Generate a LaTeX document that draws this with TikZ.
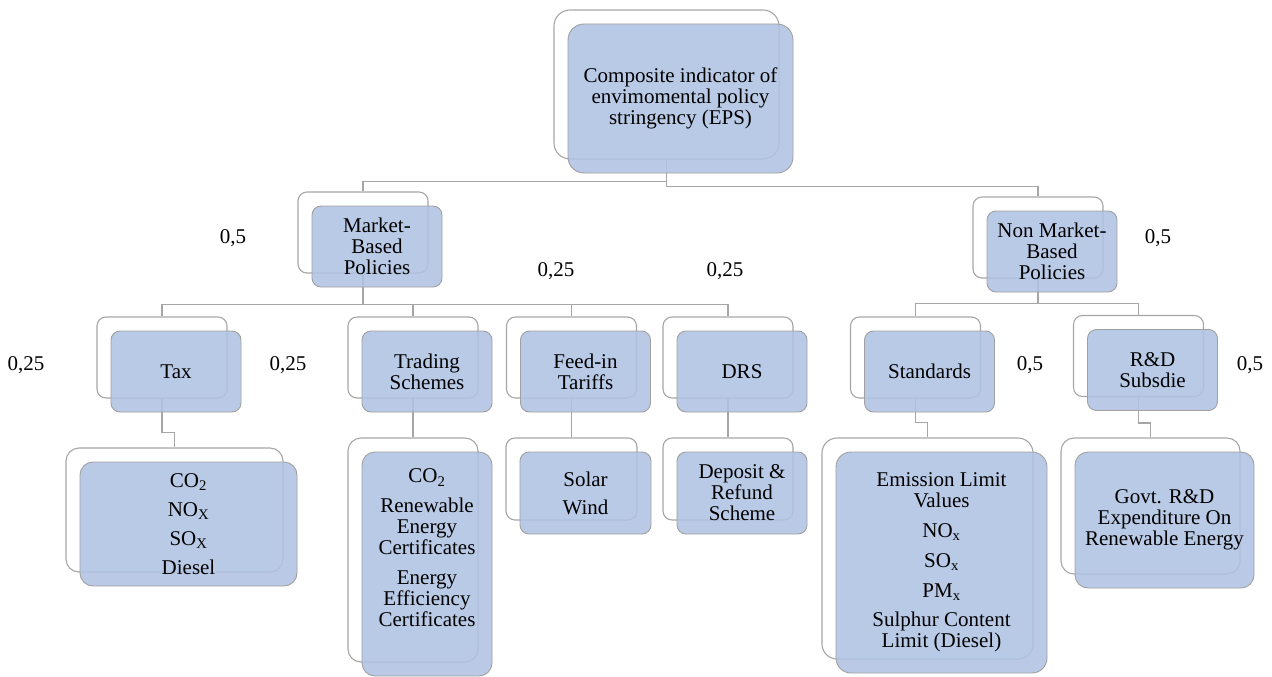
\documentclass[tikz,border=0pt]{standalone}
\usepackage{fontspec}
\setmainfont{Liberation Serif}
\newfontfamily\tnr{Liberation Serif}
\definecolor{lineGray}{RGB}{166,166,166}
\definecolor{backGray}{RGB}{166,166,166}
\definecolor{frontGray}{RGB}{160,160,160}
\definecolor{boxBlue}{RGB}{176,195,227}
\pgfdeclarelayer{bg}
\pgfsetlayers{bg,main}
\newcommand\pairbox[7]{%
  \node[backbox, minimum width=#4pt, minimum height=#5pt, rounded corners=#6pt] (#1W) at ({#2-14},{#3-14}) {};
  \node[frontbox, minimum width=#4pt, minimum height=#5pt, rounded corners=#6pt] (#1) at (#2,#3) {#7};
}
\begin{document}
\begin{tikzpicture}[x=1pt,y=-1pt,
  conn/.style={draw=lineGray, line width=1.3pt},
  backbox/.style={draw=backGray, fill=white, line width=1.1pt, inner sep=0pt},
  frontbox/.style={draw=frontGray, fill=boxBlue, fill opacity=0.88, text opacity=1, line width=0.9pt, inner sep=0pt, align=center, font=\tnr\fontsize{21}{21}\selectfont},
  wlabel/.style={font=\tnr\fontsize{21}{21}\selectfont, anchor=base, inner sep=0pt}]
\useasboundingbox (0,0) rectangle (1272,677);

% top
\pairbox{top}{680.5}{98.5}{225}{149}{16}{Composite indicator of\\envimomental policy\\stringency (EPS)}
% level 1
\pairbox{mkt}{377}{246.5}{130}{81}{9}{Market-\\Based\\Policies}
\pairbox{nmk}{1052}{251.5}{130}{81}{9}{Non Market-\\Based\\Policies}
% level 2
\pairbox{tax}{176}{371.5}{130}{81}{9}{Tax}
\pairbox{trd}{427}{371.5}{130}{81}{9}{Trading\\Schemes}
\pairbox{fit}{585.5}{371.5}{130}{81}{9}{Feed-in\\Tariffs}
\pairbox{drs}{742}{371.5}{130}{81}{9}{DRS}
\pairbox{std}{929.5}{371.5}{130}{81}{9}{Standards}
\pairbox{rnd}{1152.5}{370}{130}{81}{9}{R\&D\\Subsdie}
% leaves
\pairbox{taxL}{188.5}{524}{217}{124}{13}{CO\textsubscript{2}\\[8pt]NO\textsubscript{X}\\[8pt]SO\textsubscript{X}\\[8pt]Diesel}
\pairbox{trdL}{427}{564}{130}{224}{13}{CO\textsubscript{2}\\[9pt]Renewable\\Energy\\Certificates\\[9pt]Energy\\Efficiency\\Certificates\\[11pt]\mbox{}}
\pairbox{fitL}{585.5}{493}{131}{82}{9}{Solar\\[7pt]Wind}
\pairbox{drsL}{742}{493}{130}{82}{9}{Deposit \&\\Refund\\Scheme}
\pairbox{stdL}{941.5}{562.5}{211}{221}{15}{Emission Limit\\Values\\[9pt]NO\textsubscript{x}\\[9pt]SO\textsubscript{x}\\[9pt]PM\textsubscript{x}\\[8pt]Sulphur Content\\Limit (Diesel)}
\pairbox{rndL}{1164.5}{520}{179}{136}{13}{Govt. R\&D\\Expenditure On\\Renewable Energy}

% connectors behind the boxes
\begin{pgfonlayer}{bg}
\draw[conn] (topW.south) -- ++(0,22) -| (mktW.north);
\draw[conn] (topW.south) -- ++(0,27) -| (nmkW.north);
\draw[conn] (mktW.south) -- ++(0,31) -| (taxW.north);
\draw[conn] (mktW.south) -- ++(0,31) -| (trdW.north);
\draw[conn] (mktW.south) -- ++(0,31) -| (fitW.north);
\draw[conn] (mktW.south) -- ++(0,31) -| (drsW.north);
\draw[conn] (nmkW.south) -- ++(0,25) -| (stdW.north);
\draw[conn] (nmkW.south) -- ++(0,25) -| (rndW.north);
\draw[conn] (taxW.south) -- ++(0,34) -| (taxLW.north);
\draw[conn] (trdW.south) -- ++(0,20) -| (trdLW.north);
\draw[conn] (fitW.south) -- ++(0,20) -| (fitLW.north);
\draw[conn] (drsW.south) -- ++(0,20) -| (drsLW.north);
\draw[conn] (stdW.south) -- ++(0,24) -| (stdLW.north);
\draw[conn] (rndW.south) -- ++(0,26) -| (rndLW.north);
\end{pgfonlayer}

% weights
\node[wlabel] (w1) at (233,243) {0,5};
\node[wlabel] (w2) at (1158,243) {0,5};
\node[wlabel] (w3) at (556,276) {0,25};
\node[wlabel] (w4) at (725,276) {0,25};
\node[wlabel] (w5) at (26,370) {0,25};
\node[wlabel] (w6) at (288,370) {0,25};
\node[wlabel] (w7) at (1030,370) {0,5};
\node[wlabel] (w8) at (1250,370) {0,5};
\end{tikzpicture}
\end{document}
